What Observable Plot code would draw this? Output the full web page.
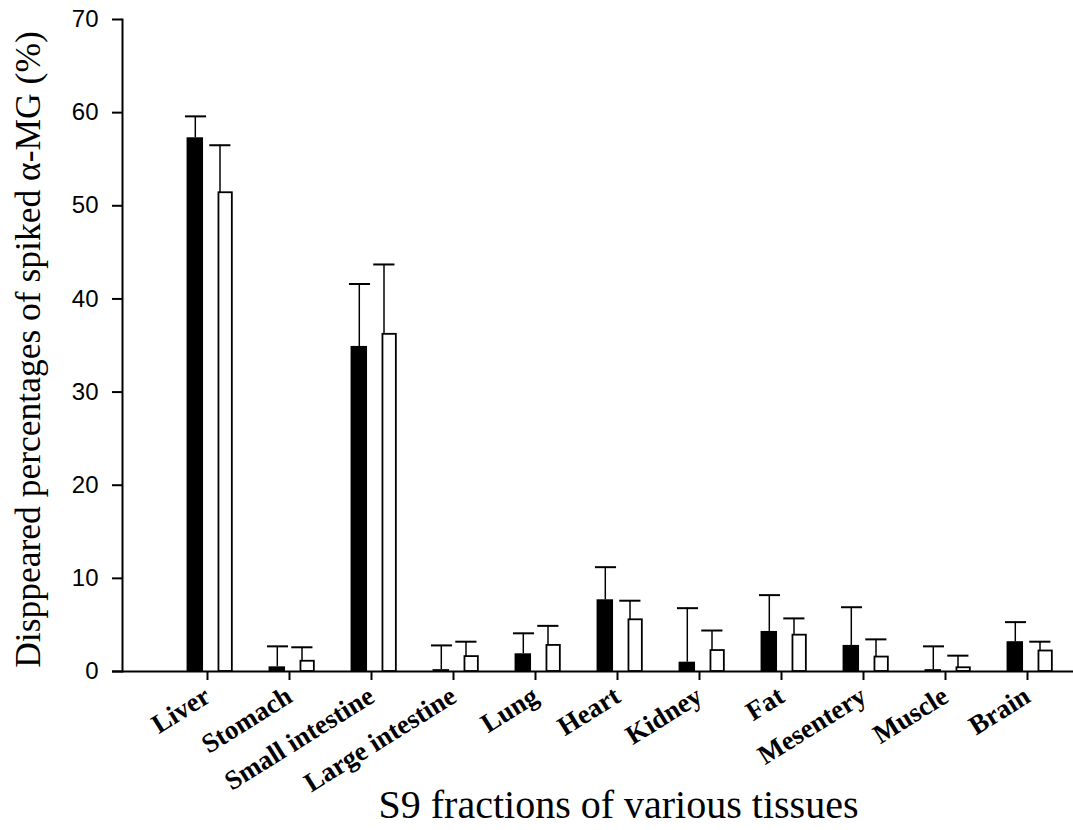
<!DOCTYPE html>
<html>
<head>
<meta charset="utf-8">
<script src="https://cdn.jsdelivr.net/npm/d3@7"></script>
<script src="https://cdn.jsdelivr.net/npm/@observablehq/plot@0.6"></script>
<style>
  html, body { margin: 0; padding: 0; background: #fff; }
  #chart svg { display: block; }
</style>
</head>
<body>
<div id="chart"></div>
<script>
const tissues = ["Liver", "Stomach", "Small intestine", "Large intestine", "Lung", "Heart", "Kidney", "Fat", "Mesentery", "Muscle", "Brain"];
const blackMean = [57.3, 0.5, 34.9, 0.2, 1.9, 7.7, 1.0, 4.3, 2.8, 0.2, 3.2];
const blackErr  = [2.3, 2.2, 6.7, 2.6, 2.2, 3.5, 5.8, 3.9, 4.1, 2.5, 2.1];
const whiteMean = [51.4, 1.1, 36.2, 1.6, 2.8, 5.55, 2.25, 3.9, 1.55, 0.4, 2.2];
const whiteErr  = [5.1, 1.5, 7.5, 1.6, 2.1, 2.05, 2.15, 1.8, 1.9, 1.3, 1.0];
const yTicks = [0, 10, 20, 30, 40, 50, 60, 70];
const yTitle = "Disppeared percentages of spiked α-MG (%)";
const xTitle = "S9 fractions of various tissues";

const data = tissues.map((t, i) => ({
  tissue: t,
  black: blackMean[i], blackTop: blackMean[i] + blackErr[i],
  white: whiteMean[i], whiteTop: whiteMean[i] + whiteErr[i]
}));

const W = 1073, H = 830;
const half = (1071.5 - 163.75) / tissues.length / 2;

const chart = Plot.plot({
  width: W,
  height: H,
  marginLeft: 122,
  marginRight: 0,
  marginTop: 19,
  marginBottom: H - 671,
  style: {fontFamily: "Liberation Serif", background: "#fff", color: "#000"},
  x: {type: "band", domain: tissues, range: [163.75, 1071.5], padding: 0, label: null},
  y: {domain: [0, 70], label: null},
  marks: [
    // black bars
    Plot.barY(data, {x: "tissue", y: "black", fill: "black",
      insetLeft: half - 21.7, insetRight: half + 4.7}),
    // white bars
    Plot.barY(data, {x: "tissue", y: "white", fill: "white", stroke: "black", strokeWidth: 1.8,
      insetLeft: half + 10.2, insetRight: half - 24.1}),
    // error stems
    Plot.barY(data, {x: "tissue", y1: "black", y2: "blackTop", fill: "black",
      insetLeft: half - 13.7, insetRight: half + 11.7}),
    Plot.barY(data, {x: "tissue", y1: "white", y2: "whiteTop", fill: "black",
      insetLeft: half + 11.0, insetRight: half - 13.0}),
    // caps
    Plot.tickY(data, {x: "tissue", y: "blackTop", stroke: "black", strokeWidth: 2,
      insetLeft: half - 23.3, insetRight: half + 1.7}),
    Plot.tickY(data, {x: "tissue", y: "whiteTop", stroke: "black", strokeWidth: 2,
      insetLeft: half + 1.0, insetRight: half - 22.7}),
    // axes
    Plot.frame({anchor: "left", stroke: "black", strokeWidth: 2}),
    Plot.ruleY([0], {stroke: "black", strokeWidth: 2, insetLeft: -10}),
    Plot.axisY({ticks: yTicks, tickSize: 10, tickPadding: 14, strokeWidth: 2,
      fontSize: 24, fontFamily: "Liberation Sans", label: null, tickFormat: d => String(d)}),
    Plot.axisX({tickSize: 9, tickPadding: 13, strokeWidth: 2, tickRotate: -32, dx: -1,
      fontSize: 27, fontWeight: "bold", fontFamily: "Liberation Serif", label: null}),
    // titles
    Plot.text([yTitle], {text: d => d, frameAnchor: "left", rotate: -90, dx: -94, dy: 4,
      fontSize: 35.5, fontFamily: "Liberation Serif", textAnchor: "middle", lineAnchor: "middle"}),
    Plot.text([xTitle], {text: d => d, frameAnchor: "bottom", dx: 20.5, dy: 134,
      fontSize: 40, fontFamily: "Liberation Serif", textAnchor: "middle", lineAnchor: "middle"})
  ]
});
document.getElementById("chart").appendChild(chart);
</script>
</body>
</html>
